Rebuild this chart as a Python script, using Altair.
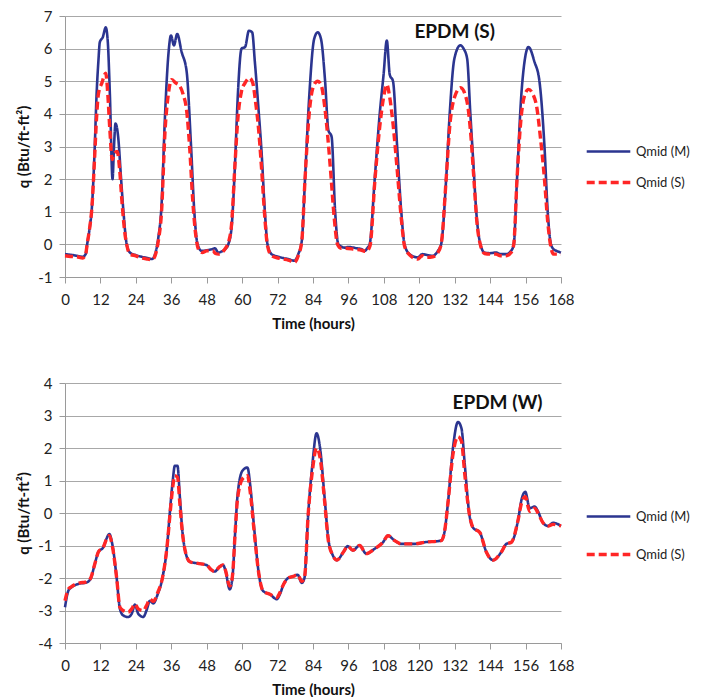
import altair as alt
import pandas as pd

SERIES = ["Qmid (M)", "Qmid (S)"]

# ---------------- top panel: EPDM (S) ----------------
top_t_m = [0, 2, 4, 6, 7, 7.5, 8.5, 9, 10, 10.7, 11.3, 11.8, 12.8, 13.8, 14.5, 15.2, 16.1, 16.6, 17.1, 18, 19,
           19.8, 20.9, 22, 24, 26, 28, 29.5, 30.5, 31.6, 32.7, 33.9, 35, 35.9, 36.9, 38, 39.5, 41.2, 42.7, 43.8,
           44.9, 46.3, 48, 49.7, 50.8, 51.9, 53, 54.2, 55.3, 56.4, 57.6, 58.5, 59.8, 61, 62.3, 63.4, 64.3, 65.5,
           66.6, 67.7, 68.6, 70, 72.3, 74, 75.6, 77.7, 79, 80.2, 81.3, 82.7, 84.4, 85.6, 86.7, 88.1, 89.2, 90.3,
           91.5, 92.6, 94.8, 96, 98.8, 100.5, 101.5, 102.5, 103.2, 104.9, 106.6, 107.9, 109, 110, 111.1, 112.5,
           113.9, 115, 116.7, 119.5, 121, 122.3, 124.6, 126.3, 127.4, 129.1, 130.3, 131.9, 133.9, 135, 136.2,
           137.3, 138.3, 139.3, 140.7, 142.1, 144, 146, 147.5, 149.4, 151.1, 152, 153.1, 154.5, 155.5, 157, 159,
           160.7, 162.4, 163.5, 164.6, 165.5, 166.5, 168]
top_q_m = [-0.3, -0.32, -0.35, -0.38, -0.3, 0, 0.6, 1.0, 2.8, 4.6, 5.6, 6.2, 6.35, 6.65, 6.2, 4.6, 2.0, 3.0, 3.7,
           3.3, 2.0, 1.0, 0.0, -0.25, -0.33, -0.38, -0.42, -0.45, -0.3, 0.2, 1.2, 4.0, 5.8, 6.4, 6.1, 6.45, 5.9,
           5.3, 3.0, 1.0, 0.0, -0.2, -0.18, -0.15, -0.12, -0.25, -0.22, -0.15, 0.0, 0.5, 2.5, 4.5, 6.0, 6.05,
           6.55, 6.5, 5.6, 4.2, 2.8, 1.0, 0.0, -0.3, -0.38, -0.42, -0.45, -0.5, -0.3, 0.1, 2.0, 4.5, 6.3, 6.5,
           6.3, 5.0, 3.5, 3.3, 1.0, 0.0, -0.1, -0.08, -0.12, -0.15, -0.2, -0.1, 0.0, 2.0, 4.0, 5.2, 6.25, 5.2,
           5.0, 3.0, 1.0, 0.0, -0.3, -0.4, -0.3, -0.32, -0.35, -0.2, 0.0, 2.0, 4.0, 5.7, 6.1, 6.0, 5.7, 4.0, 2.5,
           1.0, 0.0, -0.25, -0.27, -0.25, -0.3, -0.3, -0.2, 0.0, 2.0, 4.5, 5.5, 6.05, 5.6, 5.0, 3.0, 1.0, 0.0,
           -0.15, -0.2, -0.25]

top_t_s = [0, 2, 4, 6, 7, 7.5, 8.5, 9, 10, 10.7, 11.3, 12.5, 13.8, 14.5, 15.2, 16, 16.8, 17.7, 18.5, 19.3, 20.2,
           21, 22, 24, 26, 28, 29.5, 30.5, 31.6, 32.7, 33.9, 35, 36.1, 37.5, 38.9, 40, 41.2, 42.2, 43.3, 44.4,
           45.5, 46.5, 48, 50, 51, 52, 53.5, 54.5, 55.5, 56.4, 57.6, 58.5, 59.8, 61, 62.5, 63.6, 64.5, 65.5,
           66.6, 67.7, 68.6, 70, 72.3, 74, 75.6, 77.7, 79, 80.2, 81.3, 82.7, 84.4, 85.6, 86.7, 88, 89, 90, 91.2,
           92.3, 93.5, 95, 98, 100.5, 102, 103.3, 105, 106.6, 107.9, 109, 110, 111.1, 112.5, 113.9, 115, 116.7,
           119.5, 121, 122.3, 124.6, 126.3, 127.4, 129.1, 130.3, 131.9, 134, 135.5, 136.5, 137.5, 138.5, 139.5,
           140.8, 142.1, 144, 146, 147.5, 149.4, 151.1, 152, 153.1, 154.5, 155.8, 157, 158.5, 159.8, 161, 162.4,
           163.5, 164.6, 165.5, 166.5, 168]
top_q_s = [-0.35, -0.37, -0.38, -0.42, -0.3, 0, 0.6, 1.0, 2.6, 3.9, 4.6, 4.95, 5.25, 4.6, 3.5, 2.6, 2.8, 2.85,
           2.3, 1.3, 0.4, -0.05, -0.3, -0.35, -0.42, -0.45, -0.47, -0.35, 0.1, 1.0, 3.5, 4.6, 5.05, 4.95, 4.85,
           4.6, 4.1, 3.0, 1.3, 0.2, -0.2, -0.25, -0.2, -0.2, -0.28, -0.3, -0.22, -0.1, 0.1, 0.6, 2.5, 3.8, 4.7,
           4.95, 5.1, 4.95, 4.4, 3.6, 2.3, 0.8, -0.05, -0.35, -0.42, -0.45, -0.48, -0.55, -0.35, 0.1, 2.0, 4.0,
           4.9, 5.0, 4.9, 4.2, 3.3, 2.2, 0.8, 0.0, -0.12, -0.12, -0.15, -0.18, -0.22, -0.05, 2.0, 3.6, 4.5, 4.9,
           4.5, 3.7, 2.3, 0.8, -0.05, -0.32, -0.45, -0.35, -0.4, -0.38, -0.25, 0.0, 2.0, 3.6, 4.5, 4.8, 4.6, 4.2,
           3.3, 2.0, 0.7, -0.05, -0.28, -0.3, -0.3, -0.35, -0.35, -0.25, 0.0, 2.0, 3.9, 4.6, 4.75, 4.6, 4.2, 3.3,
           2.0, 0.7, -0.1, -0.3, -0.3, -0.3]

# ---------------- bottom panel: EPDM (W) ----------------
bot_t = [0, 1.1, 2, 3.4, 5, 6.8, 8, 8.8, 10, 11.3, 13, 14, 15, 16.1, 17.5, 18.6, 19.7, 21.4, 22.6, 23.7, 24.8,
         26.5, 27.6, 28.8, 29.9, 31.4, 33, 34.6, 35.5, 36.5, 37.2, 38.1, 38.9, 39.7, 40.8, 42.3, 45, 47.9, 49.6,
         50.7, 52.4, 53.5, 54.3, 55.8, 56.7, 57.7, 58.4, 60.1, 61.8, 62.8, 64.1, 65.7, 67.1, 69.4, 71.7, 72.8,
         74, 75.6, 77.3, 78.8, 80.2, 81.1, 82.4, 83.8, 85.2, 86.4, 87.9, 89.2, 90.7, 92.1, 94.3, 95.8, 97.5,
         99.8, 102, 104.9, 107.7, 109.4, 111.7, 113.9, 118.4, 121.8, 127.4, 128.5, 129.7, 131.4, 133.1, 134.3,
         135.4, 136.9, 138.2, 140.5, 142.7, 145, 147.8, 149.5, 151.2, 153.5, 154.6, 155.9, 157.4, 159.1, 160.2,
         161.9, 163.6, 165.3, 168]
bot_q_m = [-2.9, -2.4, -2.3, -2.22, -2.17, -2.15, -2.1, -2.0, -1.6, -1.2, -1.05, -0.8, -0.65, -1.0, -2.0, -2.95,
           -3.15, -3.2, -3.1, -2.82, -3.1, -3.2, -3.0, -2.7, -2.78, -2.5, -2.0, -1.0, 0.0, 1.0, 1.45, 1.45, 0.5,
           -0.5, -1.2, -1.5, -1.55, -1.6, -1.75, -1.8, -1.65, -1.6, -1.75, -2.35, -2.0, -0.5, 0.5, 1.3, 1.4, 0.8,
           -0.5, -1.9, -2.4, -2.5, -2.65, -2.5, -2.2, -2.0, -1.95, -1.9, -2.15, -2.0, 0.0, 1.5, 2.45, 2.0, 0.5,
           -0.8, -1.3, -1.45, -1.2, -1.02, -1.15, -1.0, -1.25, -1.1, -0.9, -0.7, -0.85, -0.95, -0.95, -0.9, -0.85,
           -0.6, 0.3, 2.0, 2.8, 2.6, 1.5, 0.0, -0.45, -0.6, -1.2, -1.45, -1.2, -0.95, -0.9, -0.2, 0.4, 0.65,
           0.15, 0.2, 0.05, -0.3, -0.4, -0.3, -0.4]
bot_q_s = [-2.7, -2.35, -2.28, -2.2, -2.15, -2.13, -2.08, -1.98, -1.6, -1.2, -1.05, -0.82, -0.7, -1.05, -2.0,
           -2.9, -3.0, -3.05, -2.95, -2.8, -2.95, -3.0, -2.85, -2.65, -2.72, -2.45, -2.0, -1.0, -0.1, 0.8, 1.15,
           1.1, 0.3, -0.55, -1.2, -1.5, -1.55, -1.6, -1.75, -1.8, -1.65, -1.6, -1.75, -2.25, -1.95, -0.5, 0.4,
           1.05, 1.15, 0.6, -0.6, -1.9, -2.4, -2.5, -2.6, -2.45, -2.2, -2.0, -1.95, -1.9, -2.1, -2.0, 0.0, 1.3,
           2.0, 1.7, 0.4, -0.85, -1.3, -1.45, -1.2, -1.02, -1.15, -1.0, -1.25, -1.1, -0.9, -0.7, -0.85, -0.95,
           -0.95, -0.9, -0.85, -0.6, 0.3, 1.8, 2.35, 2.2, 1.2, 0.0, -0.45, -0.6, -1.2, -1.45, -1.2, -0.95, -0.9,
           -0.2, 0.3, 0.5, 0.05, 0.15, 0.0, -0.3, -0.4, -0.35, -0.4]

x_ticks = list(range(0, 169, 12))
top_y_ticks = [-1, 0, 1, 2, 3, 4, 5, 6, 7]
bot_y_ticks = [-4, -3, -2, -1, 0, 1, 2, 3, 4]

labels = ["EPDM (S)", "EPDM (W)"]
label_x = [132, 146.5]
label_y = [6.5, 3.4]

FONT = "Lato"
COLORS = ["#2B3590", "#FF2626"]


def long_df(tm, qm, ts, qs):
    a = pd.DataFrame({"t": tm, "q": qm, "series": SERIES[0]})
    b = pd.DataFrame({"t": ts, "q": qs, "series": SERIES[1]})
    return pd.concat([a, b], ignore_index=True)


def panel(df, ydom, yticks, lab, lx, ly, h, legend_y, row_pad):
    x = alt.X("t:Q", scale=alt.Scale(domain=[0, 168], nice=False),
              axis=alt.Axis(values=x_ticks, title="Time (hours)", grid=False,
                            labelOverlap=False, labelFlush=False, labelExpr="'' + datum.value",
                            labelPadding=9, titlePadding=9))
    y = alt.Y("q:Q", scale=alt.Scale(domain=ydom, nice=False),
              axis=alt.Axis(values=yticks, title="q (Btu/ft-ft²)", grid=True,
                            labelOverlap=False, labelFlush=False, labelExpr="'' + datum.value"))
    legend = alt.Legend(title=None, orient="none", legendX=520, legendY=legend_y,
                        symbolType="stroke", symbolSize=1900, labelFont=FONT, labelFontSize=13,
                        labelColor="#222222", rowPadding=row_pad, labelOffset=4)
    lines = alt.Chart(df).mark_line(interpolate="monotone").encode(
        x=x, y=y,
        color=alt.Color("series:N", scale=alt.Scale(domain=SERIES, range=COLORS), legend=legend),
        strokeDash=alt.StrokeDash("series:N", scale=alt.Scale(domain=SERIES, range=[[1, 0], [8, 4]]),
                                  legend=legend),
        strokeWidth=alt.StrokeWidth("series:N", scale=alt.Scale(domain=SERIES, range=[2.6, 3.4]),
                                    legend=legend),
        order=alt.Order("series:N", sort="ascending"),
    )
    txt = alt.Chart(pd.DataFrame({"t": [lx], "q": [ly], "label": [lab]})).mark_text(
        font=FONT, fontSize=19, fontWeight="bold", color="#111111", align="center", baseline="middle"
    ).encode(x=x, y=y, text="label:N")
    return alt.layer(lines, txt).properties(width=496, height=h)


top = panel(long_df(top_t_m, top_q_m, top_t_s, top_q_s), [-1, 7], top_y_ticks,
            labels[0], label_x[0], label_y[0], 261, 112, -9)
bot = panel(long_df(bot_t, bot_q_m, bot_t, bot_q_s), [-4, 4], bot_y_ticks,
            labels[1], label_x[1], label_y[1], 260, 110, 7)

chart = alt.vconcat(top, bot, spacing=45).resolve_scale(
    color="independent", strokeDash="independent", strokeWidth="independent", x="independent", y="independent"
).properties(
    padding={"left": 8, "top": 1, "right": 5, "bottom": 0}, background="white"
).configure_view(stroke=None).configure_axis(
    labelFont=FONT, labelFontSize=15, labelColor="#222222",
    titleFont=FONT, titleFontSize=15, titleFontWeight="bold", titleColor="#111111",
    domainColor="#9a9a9a", tickColor="#9a9a9a", gridColor="#a8a8a8", gridWidth=1,
    tickSize=6, labelPadding=6, titlePadding=6,
).configure_axisY(labelPadding=7, domain=True)

chart.save("out.html", embed_options={"renderer": "svg", "actions": False})
